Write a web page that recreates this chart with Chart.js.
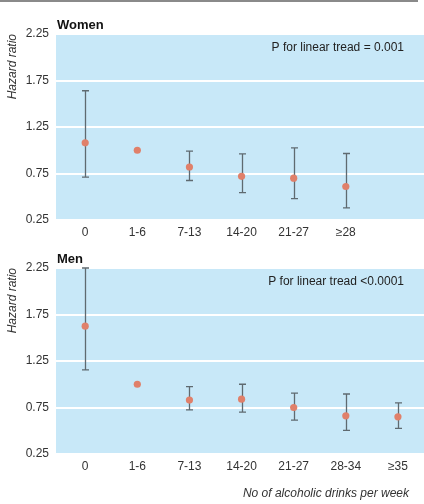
<!DOCTYPE html>
<html>
<head>
<meta charset="utf-8">
<script src="https://cdn.jsdelivr.net/npm/chart.js@4/dist/chart.umd.min.js"></script>
<style>
  html, body { margin: 0; padding: 0; background: #fff; }
  #wrap { position: relative; width: 424px; height: 504px; }
  #rule { position: absolute; left: 0; top: 0; width: 418px; height: 2px; background: #8a8a8a; }
  .box { position: absolute; left: 0; width: 424px; }
</style>
</head>
<body>
<div id="wrap">
  <div id="rule"></div>
  <div class="box" style="top:0;height:245px"><canvas id="women"></canvas></div>
  <div class="box" style="top:245px;height:259px"><canvas id="men"></canvas></div>
</div>
<script>
// drinks per week groups
const womenGroups = ['0', '1-6', '7-13', '14-20', '21-27', '≥28'];
const menGroups = ['0', '1-6', '7-13', '14-20', '21-27', '28-34', '≥35'];

// hazard ratios with 95% CI
const womenHR = [1.08, 1.0, 0.82, 0.72, 0.70, 0.61];
const womenLow = [0.71, null, 0.675, 0.545, 0.48, 0.38];
const womenHigh = [1.64, null, 0.99, 0.96, 1.025, 0.965];

const menHR = [1.625, 1.0, 0.83, 0.84, 0.75, 0.66, 0.65];
const menLow = [1.155, null, 0.725, 0.70, 0.615, 0.505, 0.525];
const menHigh = [2.25, null, 0.975, 1.0, 0.905, 0.895, 0.80];

const yTicks = [0.25, 0.75, 1.25, 1.75, 2.25];

const FONT = 'Liberation Sans, Arial, sans-serif';
const BLUE = '#c8e8f8';
const DOT = '#e0806a';
const BAR = '#5f6a70';

// blue plot area + whiskers
const panelPlugin = {
  id: 'panel',
  beforeDraw(chart) {
    const a = chart.chartArea;
    const ctx = chart.ctx;
    ctx.save();
    ctx.fillStyle = BLUE;
    ctx.fillRect(a.left, a.top, a.right - a.left, a.bottom - a.top);
    ctx.restore();
  },
  afterDatasetsDraw(chart) {
    const o = chart.options.plugins.panel;
    const ctx = chart.ctx;
    const xs = chart.scales.x, ys = chart.scales.y;
    ctx.save();
    ctx.strokeStyle = BAR;
    ctx.lineWidth = 1.3;
    o.low.forEach((lo, i) => {
      if (lo == null) return;
      const x = Math.round(xs.getPixelForValue(i)) + 0.5;
      const y1 = ys.getPixelForValue(lo), y2 = ys.getPixelForValue(o.high[i]);
      ctx.beginPath();
      ctx.moveTo(x, y1); ctx.lineTo(x, y2);
      ctx.moveTo(x - 3.5, y1); ctx.lineTo(x + 3.5, y1);
      ctx.moveTo(x - 3.5, y2); ctx.lineTo(x + 3.5, y2);
      ctx.stroke();
    });
    // dots above whiskers
    const meta = chart.getDatasetMeta(0);
    ctx.fillStyle = DOT;
    meta.data.forEach(p => {
      ctx.beginPath();
      ctx.arc(p.x, p.y, 3.6, 0, Math.PI * 2);
      ctx.fill();
    });
    // panel title and p value
    ctx.fillStyle = '#111';
    ctx.font = 'bold 13px ' + FONT;
    ctx.textBaseline = 'alphabetic';
    ctx.textAlign = 'left';
    ctx.fillText(o.title, chart.chartArea.left + 1, chart.chartArea.top - 5);
    ctx.fillStyle = '#222';
    ctx.font = '12px ' + FONT;
    ctx.textAlign = 'right';
    ctx.fillText(o.pText, 404, chart.chartArea.top + 17);
    if (o.xTitle) {
      ctx.fillStyle = '#333';
      ctx.font = 'italic 12px ' + FONT;
      ctx.textBaseline = 'middle';
      ctx.fillText(o.xTitle, 409, chart.chartArea.bottom + 40);
    }
    ctx.restore();
  }
};

function makeChart(id, groups, hr, low, high, opts) {
  return new Chart(document.getElementById(id), {
    type: 'scatter',
    data: {
      datasets: [{
        data: hr.map((v, i) => ({ x: i, y: v })),
        pointRadius: 0,
        backgroundColor: DOT
      }]
    },
    plugins: [panelPlugin],
    options: {
      responsive: true,
      maintainAspectRatio: false,
      animation: false,
      layout: { padding: { top: opts.top, right: 0, left: 0, bottom: 0 } },
      plugins: {
        legend: { display: false },
        tooltip: { enabled: false },
        panel: { low: low, high: high, title: opts.title, pText: opts.pText, xTitle: opts.xTitle }
      },
      scales: {
        x: {
          type: 'linear',
          min: -0.56,
          max: 6.5,
          afterBuildTicks: axis => { axis.ticks = groups.map((g, i) => ({ value: i })); },
          afterFit: axis => { axis.height = opts.xHeight; },
          grid: { display: false, drawTicks: false, tickLength: 0 },
          border: { display: false },
          ticks: {
            callback: v => groups[v],
            color: '#333',
            font: { family: FONT, size: 12 },
            padding: 5,
            maxRotation: 0
          }
        },
        y: {
          min: 0.25,
          max: 2.25,
          afterBuildTicks: axis => { axis.ticks = yTicks.map(v => ({ value: v })); },
          afterFit: axis => { axis.width = 56; },
          grid: { color: '#fff', lineWidth: 2, drawTicks: false },
          border: { display: false },
          ticks: {
            callback: v => v.toFixed(2),
            color: '#333',
            font: { family: FONT, size: 12 },
            padding: 7
          },
          title: {
            display: true,
            text: 'Hazard ratio',
            align: 'end',
            color: '#333',
            font: { family: FONT, size: 12, style: 'italic' },
            padding: { top: 5, bottom: 4 }
          }
        }
      }
    }
  });
}

makeChart('women', womenGroups, womenHR, womenLow, womenHigh,
  { top: 34, xHeight: 25, title: 'Women', pText: 'P for linear tread = 0.001' });
makeChart('men', menGroups, menHR, menLow, menHigh,
  { top: 23, xHeight: 50, title: 'Men', pText: 'P for linear tread <0.0001',
    xTitle: 'No of alcoholic drinks per week' });
</script>
</body>
</html>
